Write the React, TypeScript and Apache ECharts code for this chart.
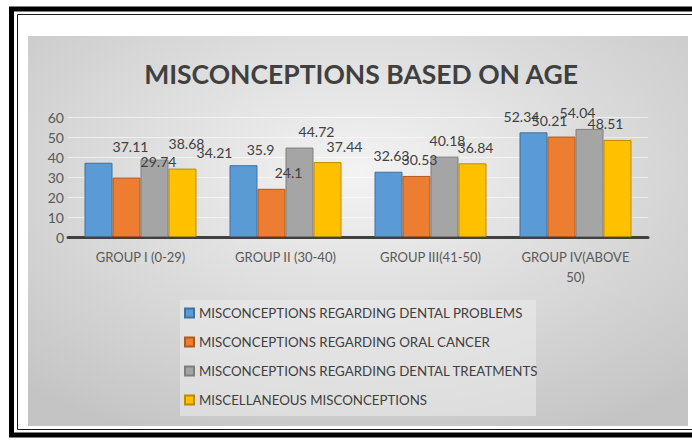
import React, { useEffect, useRef } from "react";
import * as echarts from "echarts";

const categories = ["GROUP I (0-29)", "GROUP II (30-40)", "GROUP III(41-50)", "GROUP IV(ABOVE 50)"];
const seriesNames = [
  "MISCONCEPTIONS REGARDING DENTAL PROBLEMS",
  "MISCONCEPTIONS REGARDING ORAL CANCER",
  "MISCONCEPTIONS REGARDING DENTAL TREATMENTS",
  "MISCELLANEOUS MISCONCEPTIONS",
];
const dentalProblems = [37.11, 35.9, 32.63, 52.34];
const oralCancer = [29.74, 24.1, 30.53, 50.21];
const dentalTreatments = [38.68, 44.72, 40.18, 54.04];
const miscellaneous = [34.21, 37.44, 36.84, 48.51];
const yTicks = [0, 10, 20, 30, 40, 50, 60];

const colors = ["#5B9BD5", "#ED7D31", "#A5A5A5", "#FFC000"];
const borders = ["#41719C", "#AE5A21", "#7F7F7F", "#BC8C00"];
// horizontal label shift per group, imitating the 3D perspective
const labelShift = [32, 17, 3, -12];

const FONT = "'Lato', 'Open Sans', sans-serif";

export default function App() {
  const ref = useRef<HTMLDivElement>(null);
  useEffect(() => {
    const chart = echarts.init(ref.current!, null, { renderer: "svg" });
    const all = [dentalProblems, oralCancer, dentalTreatments, miscellaneous];
    const series = all.map((vals, si) => ({
      name: seriesNames[si],
      type: "bar",
      barWidth: 28,
      barGap: "0%",
      itemStyle: { color: colors[si], borderColor: borders[si], borderWidth: 1 },
      label: {
        show: true,
        position: "top",
        distance: 9,
        color: "#404040",
        fontFamily: FONT,
        fontSize: 14,
      },
      data: vals.map((v, gi) => ({ value: v, label: { offset: [labelShift[gi], 0] } })),
    }));
    chart.setOption({
      animation: false,
      backgroundColor: "#ffffff",
      title: {
        text: "MISCONCEPTIONS BASED ON AGE",
        left: 356,
        textAlign: "center",
        top: 55,
        textStyle: { fontFamily: FONT, fontSize: 26.5, fontWeight: "bold", color: "#404040" },
      },
      graphic: [
        {
          type: "rect",
          z: -100,
          silent: true,
          shape: { x: 28, y: 36, width: 660, height: 390 },
          style: {
            fill: new echarts.graphic.RadialGradient(0.5, 0.35, 0.75, [
              { offset: 0, color: "#f3f3f3" },
              { offset: 1, color: "#c4c4c4" },
            ]),
          },
        },
        {
          type: "rect",
          z: -99,
          silent: true,
          shape: { x: 180, y: 300, width: 356, height: 116 },
          style: { fill: "rgba(236,236,236,0.55)" },
        },
        {
          type: "rect",
          z: 100,
          silent: true,
          shape: { x: 11.5, y: 9, width: 700, height: 426 },
          style: { fill: "none", stroke: "#000000", lineWidth: 5 },
        },
        {
          type: "rect",
          z: 100,
          silent: true,
          shape: { x: 17.5, y: 14.5, width: 700, height: 415 },
          style: { fill: "none", stroke: "#1a1a1a", lineWidth: 1 },
        },
      ],
      legend: {
        orient: "vertical",
        left: 184,
        top: 306,
        padding: 0,
        itemWidth: 9,
        itemHeight: 9,
        itemGap: 15,
        icon: "rect",
        textStyle: { fontFamily: FONT, fontSize: 13.3, color: "#404040", lineHeight: 14 },
        data: seriesNames,
      },
      grid: { left: 68, right: 44, top: 117, bottom: 203, containLabel: false },
      xAxis: {
        type: "category",
        data: categories,
        axisLine: { show: true, lineStyle: { color: "#404040", width: 3 } },
        axisTick: { show: false },
        axisLabel: {
          color: "#595959",
          fontFamily: FONT,
          fontSize: 13,
          margin: 10,
          lineHeight: 20,
          interval: 0,
          formatter: (v: string) => v.replace("(ABOVE ", "(ABOVE\n"),
        },
      },
      yAxis: {
        type: "value",
        min: yTicks[0],
        max: yTicks[yTicks.length - 1],
        interval: 10,
        axisLine: { show: false },
        axisTick: { show: false },
        axisLabel: { color: "#595959", fontFamily: FONT, fontSize: 14, margin: 4 },
        splitLine: { lineStyle: { color: "rgba(255,255,255,0.55)", width: 1 } },
      },
      series,
    });
    return () => chart.dispose();
  }, []);
  return <div ref={ref} style={{ position: "fixed", left: 0, top: 0, width: 692, height: 440 }} />;
}
